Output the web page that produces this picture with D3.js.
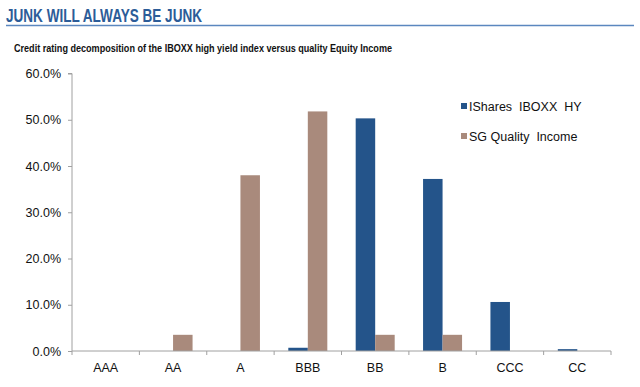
<!DOCTYPE html>
<html><head><meta charset="utf-8">
<script src="https://cdn.jsdelivr.net/npm/d3@7"></script>
<style>body{margin:0;background:#fff;}svg{display:block;}</style>
</head><body>
<svg id="c" width="640" height="387"></svg>
<script>
const categories = ["AAA","AA","A","BBB","BB","B","CCC","CC"];
const seriesNames = ["IShares  IBOXX  HY","SG Quality  Income"];
const ishares = [0, 0, 0, 0.7, 50.3, 37.2, 10.6, 0.4];
const sgQuality = [0, 3.5, 38.0, 51.8, 3.5, 3.5, 0, 0];
const yTicks = [0, 10, 20, 30, 40, 50, 60];
const colors = ["#24548a", "#a98a7c"];

const svg = d3.select("#c");
const font = "Liberation Sans, Arial, Helvetica, sans-serif";

svg.append("text").attr("x", 6).attr("y", 22)
  .attr("font-family", font)
  .attr("font-weight", "bold").attr("font-size", 18).attr("fill", "#2c5c98")
  .attr("textLength", 196).attr("lengthAdjust", "spacingAndGlyphs")
  .text("JUNK WILL ALWAYS BE JUNK");
svg.append("line").attr("x1", 6).attr("x2", 634).attr("y1", 25.5).attr("y2", 25.5)
  .attr("stroke", "#5b87bf").attr("stroke-width", 1.5);
svg.append("text").attr("x", 14).attr("y", 52)
  .attr("font-family", font).attr("font-weight", "bold").attr("font-size", 11.5).attr("fill", "#111")
  .attr("textLength", 378).attr("lengthAdjust", "spacingAndGlyphs")
  .text("Credit rating decomposition of the IBOXX high yield index versus quality Equity Income");

const x0 = d3.scaleBand().domain(categories).range([72, 611]).paddingInner(0).paddingOuter(0);
const y = d3.scaleLinear().domain([0, 60]).range([351, 73.5]);

const g = svg.append("g");
const data = [ishares, sgQuality];
const barW = 19.5;
categories.forEach((c, i) => {
  const cx = x0(c) + x0.bandwidth() / 2;
  data.forEach((s, k) => {
    const v = s[i];
    if (v <= 0) return;
    g.append("rect").attr("x", cx - barW + k * barW).attr("width", barW)
      .attr("y", y(v)).attr("height", y(0) - y(v)).attr("fill", colors[k]);
  });
});

// Y axis
const yAxis = d3.axisLeft(y).tickValues(yTicks).tickSize(4).tickPadding(7)
  .tickFormat(d => d.toFixed(1) + "%");
const ya = svg.append("g").attr("transform", "translate(72,0)").call(yAxis);
ya.select(".domain").attr("stroke", "#a0a0a0").attr("d", `M-4,${y(60)}H0V${y(0)}`);
ya.selectAll(".tick line").attr("stroke", "#a0a0a0");
ya.selectAll(".tick text").attr("font-family", font).attr("font-size", 12.5).attr("fill", "#111");

// X axis
const xa = svg.append("g").attr("transform", `translate(0,${y(0)})`);
xa.append("line").attr("x1", 72).attr("x2", 611).attr("y1", 0).attr("y2", 0).attr("stroke", "#a0a0a0");
const tickPos = categories.map(c => x0(c)).concat([x0.range()[1]]);
xa.selectAll("line.t").data(tickPos).enter().append("line").attr("class", "t")
  .attr("x1", d => d).attr("x2", d => d).attr("y1", 0).attr("y2", 4).attr("stroke", "#a0a0a0");
xa.selectAll("text").data(categories).enter().append("text")
  .attr("x", d => x0(d) + x0.bandwidth() / 2).attr("y", 21)
  .attr("text-anchor", "middle").attr("font-family", font).attr("font-size", 12.5).attr("fill", "#111")
  .text(d => d);

// Legend
const lg = svg.append("g");
seriesNames.forEach((n, k) => {
  const yy = 106.5 + k * 30;
  lg.append("rect").attr("x", 461).attr("y", yy - 3.5).attr("width", 6).attr("height", 6).attr("fill", colors[k]);
  lg.append("text").attr("x", 469).attr("y", yy + 4.2).attr("font-family", font).attr("font-size", 12.5)
    .attr("fill", "#111").attr("xml:space", "preserve").text(n);
});
</script>
</body></html>
